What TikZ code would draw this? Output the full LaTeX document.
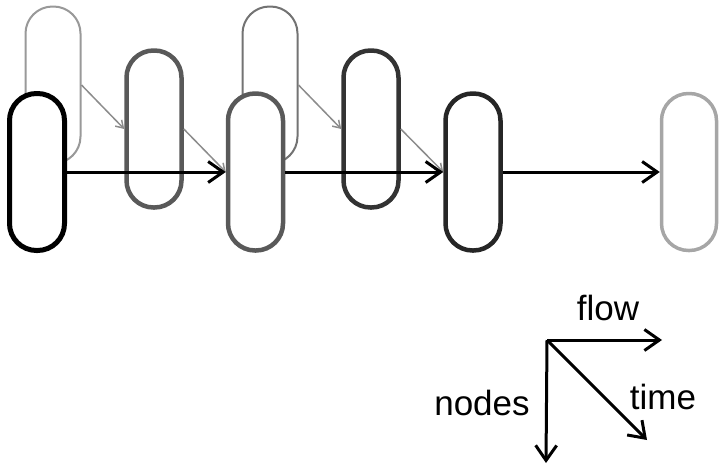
\documentclass[tikz,border=0pt]{standalone}
\usepackage{fontspec}
\setmainfont{Liberation Sans}
\usetikzlibrary{arrows.meta}

\tikzset{
  capsule/.style={fill=white, rounded corners=27pt, minimum width=55pt, minimum height=157pt, inner sep=0pt},
  flowarrow/.style={-{Straight Barb[length=15pt,width=21pt,line width=3pt]}, line width=3pt, black},
  timearrow/.style={-{Straight Barb[length=7pt,width=9pt,line width=1.5pt]}, line width=1.5pt, black!45},
  axislabel/.style={font=\fontsize{35}{40}\selectfont}
}

\begin{document}
\begin{tikzpicture}[x=1pt,y=-1pt]
\useasboundingbox (0,0) rectangle (719,474);
% capsules, back to front
\node[capsule, draw=black!40, line width=2pt] (back1) at (53,85) {};
\node[capsule, draw=black!55, line width=2pt] (back2) at (270,85) {};
\node[capsule, draw=black!65, line width=4.5pt] (mid1) at (154,129) {};
\node[capsule, draw=black!80, line width=4.5pt] (mid2) at (371,129) {};
\node[capsule, draw=black, line width=5pt] (front1) at (37,172) {};
\node[capsule, draw=black!65, line width=4.5pt] (front2) at (255.5,172) {};
\node[capsule, draw=black!85, line width=4.5pt] (front3) at (473,172) {};
\node[capsule, draw=black!35, line width=3.5pt] (last) at (689,172) {};
% time steps
\draw[timearrow] (back1.east) -- (mid1.west);
\draw[timearrow] (mid1.east) -- (front2.west);
\draw[timearrow] (back2.east) -- (mid2.west);
\draw[timearrow] (mid2.east) -- (front3.west);
% flow
\draw[flowarrow] (front1.east) -- (front2.west);
\draw[flowarrow] (front2.east) -- (front3.west);
\draw[flowarrow] (front3.east) -- (last.west);
% axes
\coordinate (origin) at (547,340);
\coordinate (flowend) at (662,340);
\coordinate (nodesend) at (546,463);
\coordinate (timeend) at (647,440);
\draw[flowarrow] (origin) -- (flowend);
\draw[flowarrow] (origin) -- (nodesend);
\draw[flowarrow] (origin) -- (timeend);
\node[axislabel] (flowtext) at (608,308) {flow};
\node[axislabel] (nodestext) at (482,403) {nodes};
\node[axislabel] (timetext) at (663,397) {time};
\end{tikzpicture}
\end{document}
